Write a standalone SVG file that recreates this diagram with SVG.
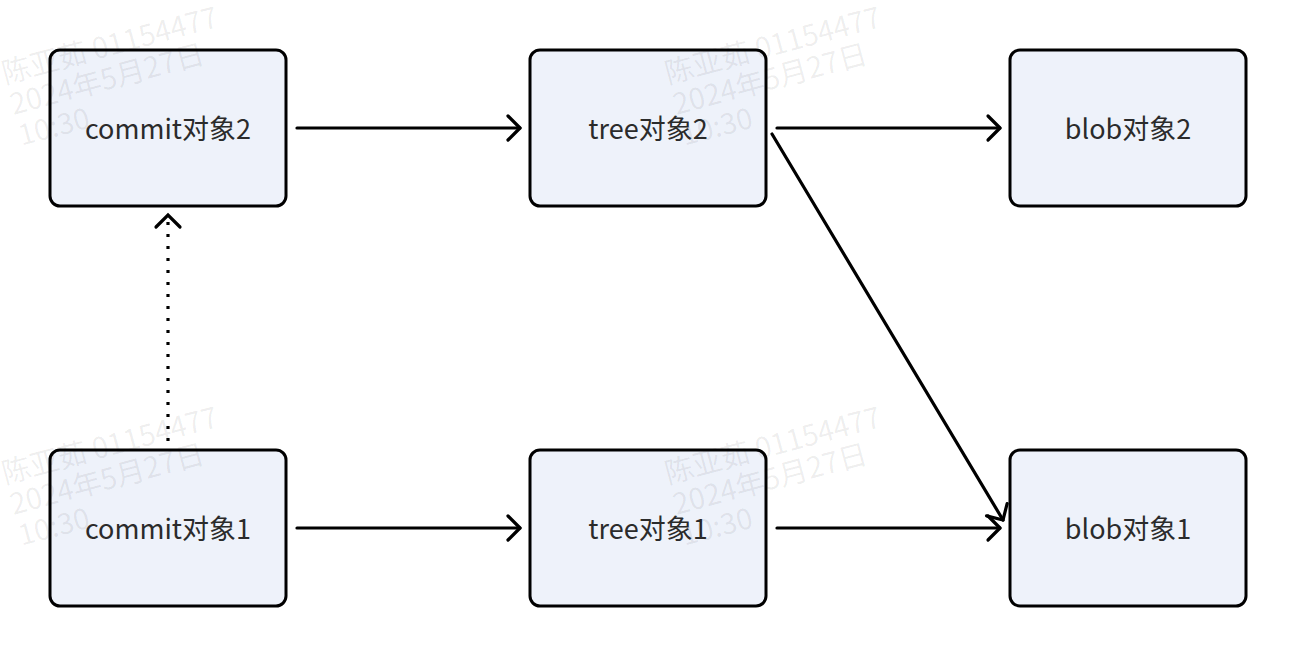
<svg xmlns="http://www.w3.org/2000/svg" width="1296" height="656" viewBox="0 0 1296 656">
  <style>
    .box { fill: #eef2fa; stroke: #000; stroke-width: 3; }
    .label { font-family: "Noto Sans CJK SC", "Noto Sans", sans-serif; font-size: 27px; fill: #2b2b2b; text-anchor: middle; }
    .edge { fill: none; stroke: #000; stroke-width: 3.2; stroke-linecap: round; }
    .dotted { fill: none; stroke: #000; stroke-width: 3.2; stroke-dasharray: 3 9; }
    .wm { font-family: "Noto Sans CJK SC", "Noto Sans", sans-serif; font-size: 29px; fill: #000; fill-opacity: 0.07; }
  </style>
  <defs>
    <marker id="arrow" markerUnits="userSpaceOnUse" orient="auto" refX="0" refY="0" markerWidth="30" markerHeight="30" overflow="visible">
      <path d="M-12,-12 L0,0 L-12,12" fill="none" stroke="#000" stroke-width="3.2" stroke-linecap="round" stroke-linejoin="round"/>
    </marker>
    <g id="stamp">
      <text class="wm" x="0" y="0">陈亚茹 01154477</text>
      <text class="wm" x="0" y="32">2024年5月27日</text>
      <text class="wm" x="0" y="64">10:30</text>
    </g>
  </defs>

  <rect width="1296" height="656" fill="#fff"/>

  <!-- object nodes -->
  <g id="commit2">
    <rect class="box" x="50" y="50" width="236" height="156" rx="10"/>
    <text class="label" x="168" y="139">commit对象2</text>
  </g>
  <g id="tree2">
    <rect class="box" x="530" y="50" width="236" height="156" rx="10"/>
    <text class="label" x="648" y="139">tree对象2</text>
  </g>
  <g id="blob2">
    <rect class="box" x="1010" y="50" width="236" height="156" rx="10"/>
    <text class="label" x="1128" y="139">blob对象2</text>
  </g>
  <g id="commit1">
    <rect class="box" x="50" y="450" width="236" height="156" rx="10"/>
    <text class="label" x="168" y="539">commit对象1</text>
  </g>
  <g id="tree1">
    <rect class="box" x="530" y="450" width="236" height="156" rx="10"/>
    <text class="label" x="648" y="539">tree对象1</text>
  </g>
  <g id="blob1">
    <rect class="box" x="1010" y="450" width="236" height="156" rx="10"/>
    <text class="label" x="1128" y="539">blob对象1</text>
  </g>

  <!-- connectors -->
  <g id="connectors">
    <line class="edge" x1="297" y1="128" x2="520" y2="128" marker-end="url(#arrow)"/>
    <line class="edge" x1="777" y1="128" x2="1000" y2="128" marker-end="url(#arrow)"/>
    <line class="edge" x1="772" y1="134" x2="1003" y2="520" marker-end="url(#arrow)"/>
    <line class="edge" x1="297" y1="528" x2="520" y2="528" marker-end="url(#arrow)"/>
    <line class="edge" x1="777" y1="528" x2="1000" y2="528" marker-end="url(#arrow)"/>
    <line class="dotted" x1="168" y1="441" x2="168" y2="219"/>
    <path class="edge" d="M156,227 L168,215 L180,227"/>
  </g>

  <!-- overlay stamps -->
  <g id="stamps">
    <use href="#stamp" transform="translate(5,84) rotate(-15)"/>
    <use href="#stamp" transform="translate(668,84) rotate(-15)"/>
    <use href="#stamp" transform="translate(5,484) rotate(-15)"/>
    <use href="#stamp" transform="translate(668,484) rotate(-15)"/>
  </g>
</svg>
